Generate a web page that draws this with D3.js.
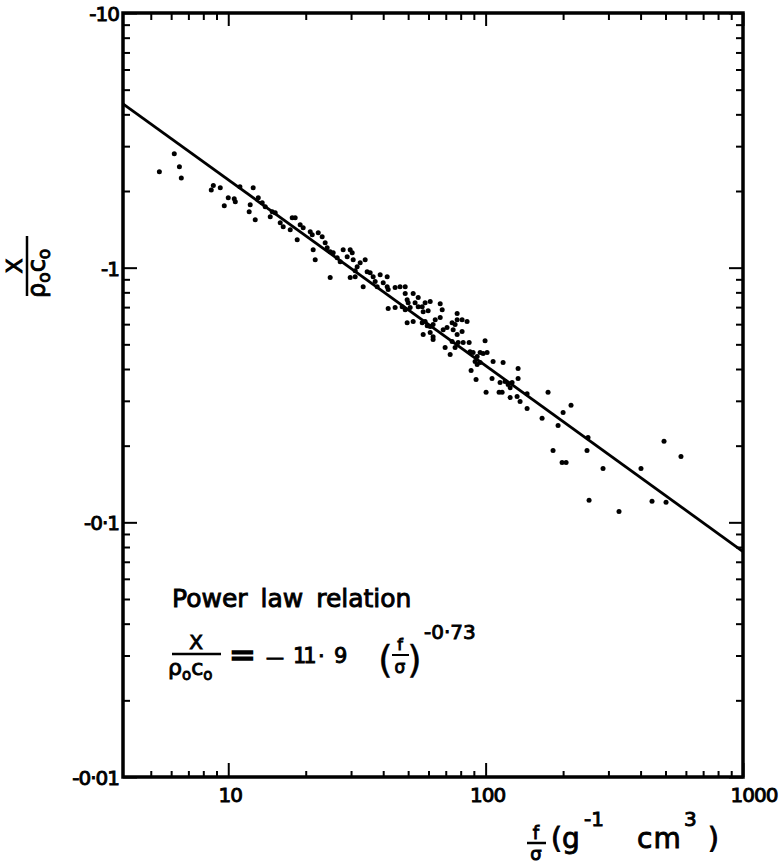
<!DOCTYPE html>
<html>
<head>
<meta charset="utf-8">
<script src="https://cdn.jsdelivr.net/npm/d3@7"></script>
<style>
  body { margin: 0; background: #fff; }
  svg text { font-family: "DejaVu Sans", sans-serif; fill: #000; stroke: #000; stroke-width: 0.9; }
</style>
</head>
<body>
<div id="container"></div>
<script>

// scatter points, f/sigma (x) and X/(rho0 c0) (y)
const fSigma = [
  5.40, 6.17, 6.46, 6.57, 8.59, 8.75, 9.31, 10.0, 10.55, 10.65, 9.65, 11.1,
  12.5, 13.08, 13.55, 12.17, 12.06, 12.73, 13.92, 14.82, 15.22, 14.56, 15.92, 16.35,
  17.72, 18.2, 17.41, 18.53, 19.03, 19.55, 20.82, 21.2, 22.37, 23.17, 21.38, 21.77,
  23.8, 24.23, 24.89, 25.57, 26.5, 27.22, 27.96, 29.77, 30.58, 31.69, 32.55, 34.04,
  24.89, 29.77, 31.13, 34.65, 36.56, 38.93, 41.45, 33.44, 37.22, 37.9, 40.0, 41.45,
  28.98, 30.31, 31.13, 35.6,
  41.82, 44.5, 46.5, 48.7, 41.82, 44.5, 48.7, 49.55, 50.0, 52.3, 54.7, 47.4,
  48.7, 50.9, 53.2, 54.7, 56.7, 58.2, 60.9, 57.2, 59.8, 66.6, 67.8, 49.55,
  52.3, 56.7, 58.2, 59.3, 60.9, 62.5, 63.7, 66.6, 57.2, 60.9, 62.5, 62.5,
  68.4, 70.8, 74.1, 76.1, 77.5, 81.0, 84.7, 77.5, 74.8, 77.5, 81.0, 69.6,
  72.8, 76.1, 74.1, 78.2, 81.8, 86.3, 87.0, 89.4, 92.7, 95.2, 97.8, 101.3,
  91.0, 92.7, 95.2, 87.8, 91.8, 99.5, 106.9, 116.9, 105.9, 113.8, 119.0, 122.3,
  124.5, 126.7, 100.4, 112.8, 124.5, 132.5, 136.1, 133.7, 133.7, 144.9, 144.9, 174.8,
  165.7, 200.0, 214.7,
  115.9, 191.2, 250.0, 182.8, 198.2, 205.4, 247.7, 285.9, 252.3, 329.8, 401.5, 443.1,
  493.3, 502.3, 574.1
];
const xNorm = [
  -2.38, -2.80, -2.49, -2.25, -2.02, -2.10, -2.06, -1.88, -1.865, -1.815, -1.75, -2.08,
  -2.06, -1.88, -1.80, -1.766, -1.658, -1.543, -1.735, -1.658, -1.643, -1.585, -1.501, -1.448,
  -1.571, -1.571, -1.409, -1.288, -1.474, -1.435, -1.384, -1.347, -1.372, -1.323, -1.177, -1.075,
  -1.253, -1.198, -1.155, -1.145, -1.094, -1.056, -1.177, -1.177, -1.075, -1.009, -1.046, -1.075,
  -0.914, -0.914, -0.922, -0.964, -0.922, -0.939, -0.922, -0.842, -0.882, -0.842, -0.873, -0.842,
  -1.104, -1.145, -0.973, -0.956,
  -0.820, -0.835, -0.842, -0.842, -0.691, -0.697, -0.791, -0.749, -0.729, -0.791, -0.763, -0.703,
  -0.684, -0.697, -0.729, -0.703, -0.703, -0.729, -0.736, -0.672, -0.678, -0.722, -0.684, -0.608,
  -0.614, -0.608, -0.614, -0.592, -0.587, -0.598, -0.625, -0.637, -0.546, -0.556, -0.536, -0.522,
  -0.571, -0.582, -0.608, -0.598, -0.625, -0.625, -0.614, -0.660, -0.571, -0.546, -0.561, -0.486,
  -0.456, -0.486, -0.513, -0.508, -0.508, -0.508, -0.468, -0.464, -0.448, -0.464, -0.460, -0.464,
  -0.428, -0.417, -0.424, -0.395, -0.364, -0.517, -0.428, -0.424, -0.367, -0.354, -0.357, -0.348,
  -0.338, -0.354, -0.324, -0.324, -0.309, -0.312, -0.298, -0.402, -0.367, -0.320, -0.280, -0.324,
  -0.256, -0.270, -0.288,
  -0.324, -0.240, -0.2154, -0.1916, -0.1719, -0.1719, -0.1916, -0.1628, -0.122, -0.1104, -0.1628, -0.1209,
  -0.208, -0.1198, -0.1815
];

// fitted power law line, end points at the frame edges
const fitF = [3.9, 1000];
const fitX = [-4.40, -0.0768];

const xMajorTicks = [10, 100, 1000];
const xTickLabels = ["10", "100", "1000"];
const xMinorTicks = [5, 6, 7, 8, 9, 20, 30, 40, 50, 60, 70, 80, 90, 200, 300, 400, 500, 600, 700, 800, 900];
const yMajorTicks = [-10, -1, -0.1, -0.01];
const yTickLabels = ["-10", "-1", "-0·1", "-0·01"];
const yMinorTicks = [-9, -8, -7, -6, -5, -4, -3, -2,
  -0.9, -0.8, -0.7, -0.6, -0.5, -0.4, -0.3, -0.2,
  -0.09, -0.08, -0.07, -0.06, -0.05, -0.04, -0.03, -0.02];

const margin = {top: 13, right: 37, bottom: 86, left: 123},
      width = 780 - margin.left - margin.right,
      height = 863 - margin.top - margin.bottom;

const svg = d3.select("#container").append("svg")
  .attr("width", 780)
  .attr("height", 863);

const chart = svg.append("g")
  .attr("transform", `translate(${margin.left},${margin.top})`);

const x = d3.scaleLog().domain([3.9, 1000]).range([0, width]);
const y = d3.scaleLog().domain([-10, -0.01]).range([0, height]);

// ticks, all pointing inward
function tickAxis(axis, vals, size, tr) {
  const g = chart.append("g")
    .attr("transform", tr)
    .call(axis.tickValues(vals).tickSize(-size).tickFormat(""));
  g.select(".domain").remove();
  g.selectAll("line").attr("stroke", "#000").attr("stroke-width", 2);
  return g;
}
tickAxis(d3.axisBottom(x), xMinorTicks, 6, `translate(0,${height})`);
tickAxis(d3.axisBottom(x), xMajorTicks, 14, `translate(0,${height})`);
tickAxis(d3.axisTop(x), xMinorTicks, 7, "translate(0,0)");
tickAxis(d3.axisTop(x), xMajorTicks, 13, "translate(0,0)");
tickAxis(d3.axisLeft(y), yMinorTicks, 7, "translate(0,0)");
tickAxis(d3.axisLeft(y), yMajorTicks, 14, "translate(0,0)");
tickAxis(d3.axisRight(y), yMinorTicks, 7, `translate(${width},0)`);
tickAxis(d3.axisRight(y), yMajorTicks, 14, `translate(${width},0)`);

// frame
chart.append("rect")
  .attr("width", width)
  .attr("height", height)
  .attr("fill", "none")
  .attr("stroke", "#000")
  .attr("stroke-width", 3.5);

// tick labels
chart.append("g").selectAll("text")
  .data(xMajorTicks)
  .join("text")
  .attr("x", (d, i) => x(d) + (i === 2 ? 11 : 2))
  .attr("y", height + 25)
  .attr("text-anchor", "middle")
  .style("font-size", "20px")
  .style("letter-spacing", "-1px")
  .text((d, i) => xTickLabels[i]);

chart.append("g").selectAll("text")
  .data(yMajorTicks)
  .join("text")
  .attr("x", -4)
  .attr("y", d => y(d) + 8)
  .attr("text-anchor", "end")
  .style("font-size", "20px")
  .style("letter-spacing", "-1px")
  .text((d, i) => yTickLabels[i]);

// fit line
const fitLine = d3.line()
  .x(d => x(d[0]))
  .y(d => y(d[1]));
chart.append("path")
  .datum(fitF.map((f, i) => [f, fitX[i]]))
  .attr("fill", "none")
  .attr("stroke", "#000")
  .attr("stroke-width", 2.8)
  .attr("d", fitLine);

// data points
chart.append("g").selectAll("circle")
  .data(fSigma.map((f, i) => [f, xNorm[i]]))
  .join("circle")
  .attr("cx", d => x(d[0]))
  .attr("cy", d => y(d[1]))
  .attr("r", 2.5)
  .attr("fill", "#000");

// y axis label  X / rho0 c0
const yl = svg.append("g").attr("transform", "translate(28,266) rotate(-90)");
yl.append("text").attr("x", 0).attr("y", -6).attr("text-anchor", "middle")
  .style("font-size", "22px").text("X");
yl.append("line").attr("x1", -30).attr("x2", 30).attr("y1", -1).attr("y2", -1)
  .attr("stroke", "#000").attr("stroke-width", 2.5);
const yd = yl.append("text").attr("x", -32).attr("y", 17).style("font-size", "24px");
yd.append("tspan").text("ρ");
yd.append("tspan").attr("dy", 5).style("font-size", "17px").text("o");
yd.append("tspan").attr("dy", -5).text("c");
yd.append("tspan").attr("dy", 5).style("font-size", "17px").text("o");

// x axis label  f/sigma (g^-1 cm^3)
const xl = svg.append("g");
xl.append("text").attr("x", 536).attr("y", 839).attr("text-anchor", "middle")
  .style("font-size", "18px").text("f");
xl.append("line").attr("x1", 527).attr("x2", 546).attr("y1", 843).attr("y2", 843)
  .attr("stroke", "#000").attr("stroke-width", 2.5);
xl.append("text").attr("x", 536).attr("y", 860).attr("text-anchor", "middle")
  .style("font-size", "18px").text("σ");
const xu = xl.append("text").attr("y", 848).style("font-size", "28px");
xu.append("tspan").attr("x", 551).text("(");
xu.append("tspan").attr("x", 562).text("g");
xu.append("tspan").attr("x", 584).attr("y", 826).style("font-size", "20px").text("-1");
xu.append("tspan").attr("x", 637).attr("y", 848).style("letter-spacing", "1px").text("cm");
xu.append("tspan").attr("x", 684).attr("y", 826).style("font-size", "20px").text("3");
xu.append("tspan").attr("x", 708).attr("y", 848).text(")");

// annotation
svg.append("text").attr("x", 172).attr("y", 607)
  .style("font-size", "25px").style("word-spacing", "5px")
  .text("Power law relation");

const eq = svg.append("g");
eq.append("text").attr("x", 196).attr("y", 649).attr("text-anchor", "middle")
  .style("font-size", "20px").text("X");
eq.append("line").attr("x1", 172).attr("x2", 221).attr("y1", 654).attr("y2", 654)
  .attr("stroke", "#000").attr("stroke-width", 2.5);
const den = eq.append("text").attr("x", 168).attr("y", 675).style("font-size", "22px");
den.append("tspan").text("ρ");
den.append("tspan").attr("dy", 5).style("font-size", "15px").text("o");
den.append("tspan").attr("dy", -5).text("c");
den.append("tspan").attr("dy", 5).style("font-size", "15px").text("o");
eq.append("text").attr("x", 229).attr("y", 666)
  .style("font-size", "32px").style("stroke-width", 1.5).text("=");
const num = eq.append("text").attr("y", 663).style("font-size", "21px");
num.append("tspan").attr("x", 266).style("font-size", "18px").text("—");
num.append("tspan").attr("x", 293).style("letter-spacing", "-3px").text("11");
num.append("tspan").attr("x", 318).text("·");
num.append("tspan").attr("x", 334).text("9");
eq.append("text").attr("x", 378).attr("y", 672)
  .style("font-size", "38px").style("stroke-width", 0.3).text("(");
eq.append("text").attr("x", 400).attr("y", 650).attr("text-anchor", "middle")
  .style("font-size", "16px").text("f");
eq.append("line").attr("x1", 392).attr("x2", 409).attr("y1", 655).attr("y2", 655)
  .attr("stroke", "#000").attr("stroke-width", 2);
eq.append("text").attr("x", 400).attr("y", 673).attr("text-anchor", "middle")
  .style("font-size", "17px").text("σ");
eq.append("text").attr("x", 407).attr("y", 672)
  .style("font-size", "38px").style("stroke-width", 0.3).text(")");
eq.append("text").attr("x", 424).attr("y", 639)
  .style("font-size", "20px").text("-0·73");

</script>
</body>
</html>
